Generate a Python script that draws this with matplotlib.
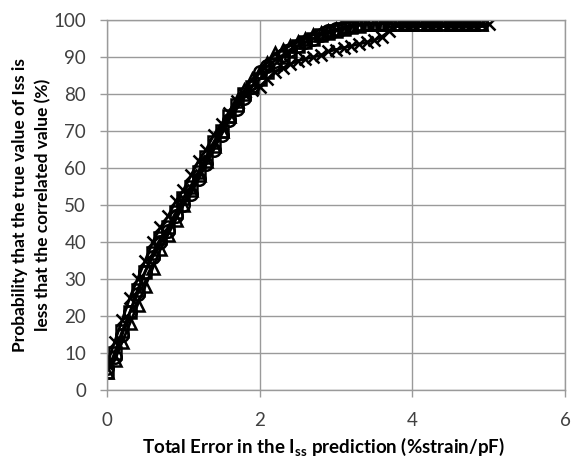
import matplotlib.pyplot as plt

plt.rcParams['font.family'] = ['Lato', 'DejaVu Sans']
plt.rcParams['mathtext.fontset'] = 'custom'
plt.rcParams['mathtext.rm'] = 'Lato'
plt.rcParams['mathtext.bf'] = 'Lato:bold'

# total error (%strain/pF)
x_err = [0.0, 0.1, 0.2, 0.3, 0.4, 0.5, 0.6, 0.7, 0.8, 0.9,
         1.0, 1.1, 1.2, 1.3, 1.4, 1.5, 1.6, 1.7, 1.8, 1.9,
         2.0, 2.1, 2.2, 2.3, 2.4, 2.5, 2.6, 2.7, 2.8, 2.9,
         3.0, 3.1, 3.2, 3.3, 3.4, 3.5, 3.6, 3.7, 3.8, 3.9,
         4.0, 4.1, 4.2, 4.3, 4.4, 4.5, 4.6, 4.7, 4.8, 4.9]
x_cross = x_err + [5.0]

# probability (%)
p_square = [5, 10, 16, 21, 27, 32, 37, 41, 44, 48,
            52, 55, 59, 63, 67, 70, 74, 77, 80, 82,
            84, 86, 88, 90, 91.5, 93, 94, 95, 96, 96.5,
            97, 97.5, 98, 98.5, 99, 99, 99, 99, 99, 99,
            99, 99, 99, 99, 99, 99, 99, 99, 99, 99]
p_triangle = [5, 8, 13, 18, 23, 28, 33, 38, 42, 46,
              50, 54, 58, 62, 66, 70, 74, 78, 81, 84,
              86, 88.5, 91, 92, 93, 94, 95, 96, 96.5, 97,
              97.5, 98, 98.5, 99, 99, 99, 99, 99, 99, 99,
              99, 99, 99, 99, 99, 99, 99, 99, 99, 99]
p_circle = [6, 9, 15, 21, 26, 32, 36, 40, 43, 47,
            50, 53, 57, 61, 65, 69, 73, 76, 79, 82,
            86, 87.5, 89, 90.5, 92, 93, 94, 95, 96, 97,
            97.5, 98, 98.5, 99, 99, 99, 99, 100, 100, 100,
            100, 100, 100, 100, 100, 100, 100, 100, 100, 100]
p_cross = [7, 13, 19, 25, 30, 35, 40, 44, 47, 51,
           54, 58, 62, 65, 69, 72, 75, 78, 80, 81,
           82, 84, 86, 87, 88, 89, 89.5, 90, 90.5, 91.5,
           92, 92.5, 93, 93.5, 94, 94.5, 95.5, 97, 99, 99,
           99, 99, 99, 99, 99, 99, 99, 99, 99, 99, 99]

fig = plt.figure(figsize=(5.71, 4.57), dpi=100)
ax = fig.add_axes([0.1874, 0.1466, 0.8021, 0.8096])

style = dict(color='black', lw=2, mfc='none', mec='black', ms=9, mew=1.8)
ax.plot(x_err, p_square, marker='s', **style)
ax.plot(x_err, p_triangle, marker='^', **style)
ax.plot(x_err, p_circle, marker='o', **style)
ax.plot(x_cross, p_cross, marker='x', **style)

ax.set_xlim(0, 6)
ax.set_ylim(0, 100)
ax.set_xticks([0, 2, 4, 6])
ax.set_yticks(range(0, 101, 10))
ax.grid(True, color='#9a9a9a', lw=1)
ax.set_axisbelow(True)
for s in ax.spines.values():
    s.set_color('#9a9a9a')
    s.set_linewidth(1)
ax.tick_params(axis='both', colors='#9a9a9a', labelcolor='#404040',
               labelsize=13.5, length=5, width=1)
ax.tick_params(axis='y', pad=10)
ax.tick_params(axis='x', pad=11)

ax.set_xlabel(r'Total Error in the I$_{\mathbf{ss}}$ prediction (%strain/pF)',
              fontsize=13.5, fontweight='bold', va='center')
ax.xaxis.set_label_coords(0.473, -0.152)
ax.set_ylabel('Probability that the true value of Iss is\nless that the correlated value (%)',
              fontsize=12.5, fontweight='bold', linespacing=1.5, va='center')
ax.yaxis.set_label_coords(-0.165, 0.5)

fig.savefig('out.png', dpi=100)
